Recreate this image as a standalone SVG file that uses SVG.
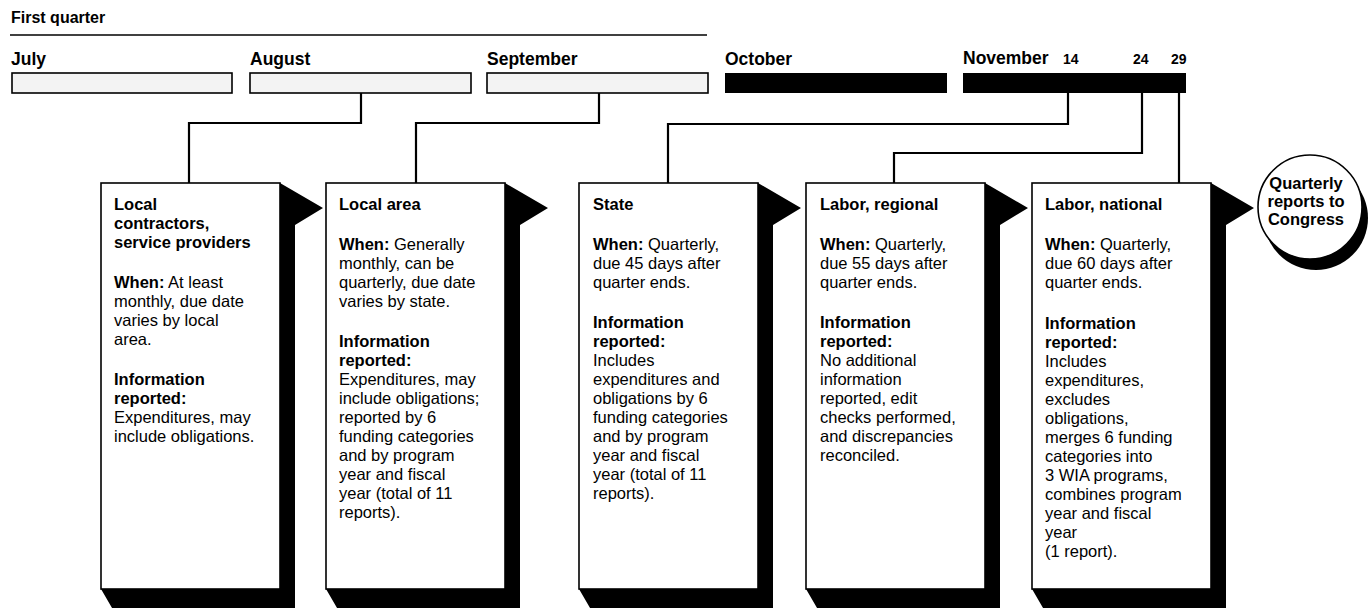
<svg xmlns="http://www.w3.org/2000/svg" width="1369" height="608" viewBox="0 0 1369 608">
<style>
  text { font-family: "Liberation Sans", Arial, Helvetica, sans-serif; fill: #000; }
  .title { font-size: 16px; font-weight: bold; }
  .month { font-size: 17.5px; font-weight: bold; }
  .day { font-size: 14px; font-weight: bold; }
  .box text { font-size: 16.5px; }
  .b { font-weight: bold; }
  .lbar { fill: #f3f3f3; stroke: #000; stroke-width: 1.6; }
  .dbar { fill: #000; }
  .card { fill: #fff; stroke: #000; stroke-width: 1.6; }
  .shadow { fill: #000; }
  .conn { fill: none; stroke: #000; stroke-width: 2.2; }
  .ctext { font-size: 16.5px; font-weight: bold; text-anchor: middle; }
</style>

<g id="header">
  <text class="title" x="11" y="23">First quarter</text>
  <line x1="10" y1="35" x2="707" y2="35" stroke="#000" stroke-width="1.6"/>
</g>

<g id="timeline">
  <text class="month" x="11" y="65">July</text>
  <text class="month" x="250" y="65">August</text>
  <text class="month" x="487" y="65">September</text>
  <text class="month" x="725" y="65">October</text>
  <text class="month" x="963" y="64">November</text>
  <text class="day" x="1063" y="64">14</text>
  <text class="day" x="1133" y="64">24</text>
  <text class="day" x="1171" y="64">29</text>
  <rect class="lbar" x="12" y="73" width="220" height="20"/>
  <rect class="lbar" x="250" y="73" width="221" height="20"/>
  <rect class="lbar" x="487" y="73" width="221" height="20"/>
  <rect class="dbar" x="725" y="73" width="222" height="20"/>
  <rect class="dbar" x="963" y="73" width="223" height="20"/>
</g>

<g id="connectors">
  <polyline class="conn" points="361,93 361,123 189,123 189,183"/>
  <polyline class="conn" points="599,93 599,123 416,123 416,183"/>
  <polyline class="conn" points="1068,93 1068,124 668,124 668,183"/>
  <polyline class="conn" points="1142,93 1142,153 894,153 894,183"/>
  <polyline class="conn" points="1179,93 1179,183"/>
</g>

<g id="box1" class="box">
  <polygon class="shadow" points="280,183 323,208 295,225 295,620 119,620 101,589"/>
  <rect class="card" x="101" y="183" width="179" height="406"/>
  <text x="114" y="210" class="b">Local</text>
  <text x="114" y="229" class="b">contractors,</text>
  <text x="114" y="248" class="b">service providers</text>
  <text x="114" y="288"><tspan class="b">When:</tspan> At least</text>
  <text x="114" y="307">monthly, due date</text>
  <text x="114" y="326">varies by local</text>
  <text x="114" y="345">area.</text>
  <text x="114" y="385" class="b">Information</text>
  <text x="114" y="404" class="b">reported:</text>
  <text x="114" y="423">Expenditures, may</text>
  <text x="114" y="442">include obligations.</text>
</g>

<g id="box2" class="box">
  <polygon class="shadow" points="505,183 548,208 520,225 520,620 344,620 326,589"/>
  <rect class="card" x="326" y="183" width="179" height="406"/>
  <text x="339" y="210" class="b">Local area</text>
  <text x="339" y="250"><tspan class="b">When:</tspan> Generally</text>
  <text x="339" y="269">monthly, can be</text>
  <text x="339" y="288">quarterly, due date</text>
  <text x="339" y="307">varies by state.</text>
  <text x="339" y="347" class="b">Information</text>
  <text x="339" y="366" class="b">reported:</text>
  <text x="339" y="385">Expenditures, may</text>
  <text x="339" y="404">include obligations;</text>
  <text x="339" y="423">reported by 6</text>
  <text x="339" y="442">funding categories</text>
  <text x="339" y="461">and by program</text>
  <text x="339" y="480">year and fiscal</text>
  <text x="339" y="499">year (total of 11</text>
  <text x="339" y="518">reports).</text>
</g>

<g id="box3" class="box">
  <polygon class="shadow" points="758,183 801,208 773,225 773,620 597,620 579,589"/>
  <rect class="card" x="579" y="183" width="179" height="406"/>
  <text x="593" y="210" class="b">State</text>
  <text x="593" y="250"><tspan class="b">When:</tspan> Quarterly,</text>
  <text x="593" y="269">due 45 days after</text>
  <text x="593" y="288">quarter ends.</text>
  <text x="593" y="328" class="b">Information</text>
  <text x="593" y="347" class="b">reported:</text>
  <text x="593" y="366">Includes</text>
  <text x="593" y="385">expenditures and</text>
  <text x="593" y="404">obligations by 6</text>
  <text x="593" y="423">funding categories</text>
  <text x="593" y="442">and by program</text>
  <text x="593" y="461">year and fiscal</text>
  <text x="593" y="480">year (total of 11</text>
  <text x="593" y="499">reports).</text>
</g>

<g id="box4" class="box">
  <polygon class="shadow" points="985,183 1028,208 1000,225 1000,620 824,620 806,589"/>
  <rect class="card" x="806" y="183" width="179" height="406"/>
  <text x="820" y="210" class="b">Labor, regional</text>
  <text x="820" y="250"><tspan class="b">When:</tspan> Quarterly,</text>
  <text x="820" y="269">due 55 days after</text>
  <text x="820" y="288">quarter ends.</text>
  <text x="820" y="328" class="b">Information</text>
  <text x="820" y="347" class="b">reported:</text>
  <text x="820" y="366">No additional</text>
  <text x="820" y="385">information</text>
  <text x="820" y="404">reported, edit</text>
  <text x="820" y="423">checks performed,</text>
  <text x="820" y="442">and discrepancies</text>
  <text x="820" y="461">reconciled.</text>
</g>

<g id="box5" class="box">
  <polygon class="shadow" points="1211,183 1254,208 1226,225 1226,620 1050,620 1032,589"/>
  <rect class="card" x="1032" y="183" width="179" height="406"/>
  <text x="1045" y="210" class="b">Labor, national</text>
  <text x="1045" y="250"><tspan class="b">When:</tspan> Quarterly,</text>
  <text x="1045" y="269">due 60 days after</text>
  <text x="1045" y="288">quarter ends.</text>
  <text x="1045" y="329" class="b">Information</text>
  <text x="1045" y="348" class="b">reported:</text>
  <text x="1045" y="367">Includes</text>
  <text x="1045" y="386">expenditures,</text>
  <text x="1045" y="405">excludes</text>
  <text x="1045" y="424">obligations,</text>
  <text x="1045" y="443">merges 6 funding</text>
  <text x="1045" y="462">categories into</text>
  <text x="1045" y="481">3 WIA programs,</text>
  <text x="1045" y="500">combines program</text>
  <text x="1045" y="519">year and fiscal</text>
  <text x="1045" y="538">year</text>
  <text x="1045" y="557">(1 report).</text>
</g>

<g id="congress">
  <circle cx="1316" cy="218" r="52" fill="#000"/>
  <circle cx="1310" cy="207" r="52" fill="#fff" stroke="#000" stroke-width="1.6"/>
  <text class="ctext" x="1306" y="189">Quarterly</text>
  <text class="ctext" x="1306" y="207">reports to</text>
  <text class="ctext" x="1306" y="225">Congress</text>
</g>
</svg>
